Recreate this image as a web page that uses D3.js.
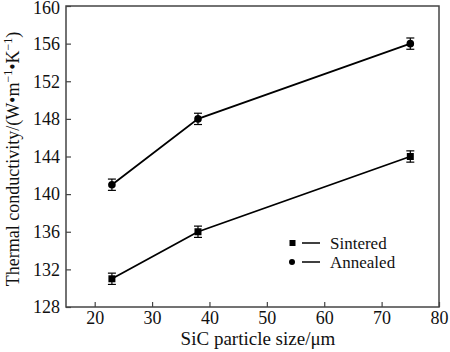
<!DOCTYPE html>
<html><head><meta charset="utf-8">
<script src="https://cdn.jsdelivr.net/npm/d3@7/dist/d3.min.js"></script>
<style>body{margin:0;background:#fff}svg{display:block}</style>
</head><body><svg id="c" width="450" height="352"></svg>
<script>
const sizes = [23, 38, 75];
const sintered = [131, 136, 144];
const annealed = [141, 148, 156];
const sinteredErr = [0.6, 0.6, 0.6];
const annealedErr = [0.6, 0.6, 0.6];
const xTicks = [20, 30, 40, 50, 60, 70, 80];
const yTicks = [128, 132, 136, 140, 144, 148, 152, 156, 160];
const seriesNames = ["Sintered", "Annealed"];

const FONT = "Liberation Serif";
const svg = d3.select("#c");
const L = 66, R = 439, T = 6, B = 307;
const x = d3.scaleLinear().domain([15, 80]).range([L, R]);
const y = d3.scaleLinear().domain([128, 160]).range([B, T]);
const axisCol = "#444";

svg.append("rect").attr("x", L).attr("y", T).attr("width", R - L).attr("height", B - T)
  .attr("fill", "none").attr("stroke", axisCol).attr("stroke-width", 1.5);

const gx = svg.append("g").attr("transform", `translate(0,${B})`)
  .call(d3.axisBottom(x).tickValues(xTicks).tickSizeInner(-5).tickSizeOuter(0).tickPadding(4));
const gy = svg.append("g").attr("transform", `translate(${L},0)`)
  .call(d3.axisLeft(y).tickValues(yTicks).tickSizeInner(-5).tickSizeOuter(0).tickPadding(6));
[gx, gy].forEach(g => {
  g.attr("font-family", null);
  g.select(".domain").remove();
  g.selectAll(".tick line").attr("stroke", axisCol).attr("stroke-width", 1.2);
  g.selectAll(".tick text").attr("font-size", 18);
});
gy.selectAll(".tick text").filter(d => d === 160).attr("dy", "0.42em");

svg.append("text").attr("x", 258).attr("y", 345).attr("text-anchor", "middle")
  .attr("font-size", 19).text("SiC particle size/μm");

const yl = svg.append("text").attr("transform", `translate(19,159) rotate(-90)`)
  .attr("text-anchor", "middle").attr("font-size", 18);
yl.append("tspan").text("Thermal conductivity/(W•m");
yl.append("tspan").attr("dy", -7).attr("font-size", 12).text("−1");
yl.append("tspan").attr("dy", 7).text("•K");
yl.append("tspan").attr("dy", -7).attr("font-size", 12).text("−1");
yl.append("tspan").attr("dy", 7).text(")");

const line = d3.line().x(d => x(d[0])).y(d => y(d[1]));
function drawSeries(vals, errs, marker) {
  const pts = sizes.map((s, i) => [s, vals[i], errs[i]]);
  svg.append("path").datum(pts).attr("d", line).attr("fill", "none")
    .attr("stroke", "#000").attr("stroke-width", 1.8);
  const g = svg.append("g");
  pts.forEach(p => {
    const cx = x(p[0]);
    g.append("line").attr("x1", cx).attr("x2", cx).attr("y1", y(p[1] + p[2])).attr("y2", y(p[1] - p[2]))
      .attr("stroke", "#000").attr("stroke-width", 1.2);
    [p[1] + p[2], p[1] - p[2]].forEach(v => g.append("line").attr("x1", cx - 4).attr("x2", cx + 4)
      .attr("y1", y(v)).attr("y2", y(v)).attr("stroke", "#000").attr("stroke-width", 1.2));
    if (marker === "square") g.append("rect").attr("x", cx - 3.5).attr("y", y(p[1]) - 3.5).attr("width", 7).attr("height", 7).attr("fill", "#000");
    else g.append("circle").attr("cx", cx).attr("cy", y(p[1])).attr("r", 3.8).attr("fill", "#000");
  });
}
drawSeries(sintered, sinteredErr, "square");
drawSeries(annealed, annealedErr, "circle");

const leg = [[seriesNames[0], "square", 243], [seriesNames[1], "circle", 262]];
leg.forEach(([name, m, ly]) => {
  if (m === "square") svg.append("rect").attr("x", 289.5).attr("y", ly - 3).attr("width", 6).attr("height", 6).attr("fill", "#000");
  else svg.append("circle").attr("cx", 292).attr("cy", ly).attr("r", 3).attr("fill", "#000");
  svg.append("line").attr("x1", 302).attr("x2", 320).attr("y1", ly).attr("y2", ly).attr("stroke", "#000").attr("stroke-width", 1.5);
  svg.append("text").attr("x", 330).attr("y", ly + 5.5).attr("font-size", 17).text(name);
});

svg.selectAll("text").attr("font-family", FONT).attr("fill", "#111");
</script></body></html>
